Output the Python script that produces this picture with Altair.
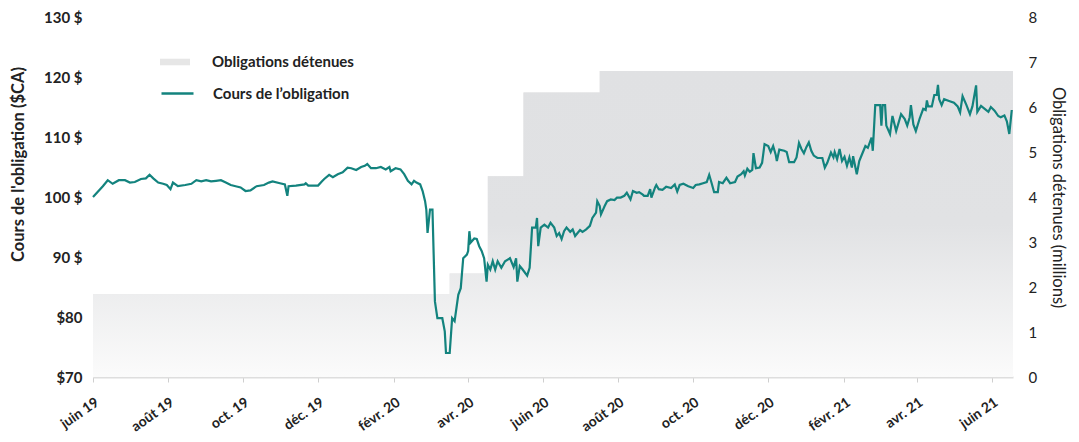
import altair as alt
import pandas as pd

# ---- Bond price (CAD) ----
price_dates = [
    "2019-06-01","2019-06-09","2019-06-13","2019-06-17","2019-06-22","2019-06-27","2019-07-01","2019-07-05",
    "2019-07-10","2019-07-14","2019-07-17","2019-07-20","2019-07-24","2019-07-28","2019-07-31","2019-08-03",
    "2019-08-05","2019-08-09","2019-08-15","2019-08-20","2019-08-24","2019-08-28","2019-09-01","2019-09-05",
    "2019-09-09","2019-09-13","2019-09-17","2019-09-21","2019-09-25","2019-09-29","2019-10-03","2019-10-07",
    "2019-10-12","2019-10-18","2019-10-22","2019-10-25","2019-10-31","2019-11-04","2019-11-06","2019-11-07",
    "2019-11-13","2019-11-20","2019-11-21","2019-11-23","2019-12-01","2019-12-04","2019-12-06","2019-12-10",
    "2019-12-13","2019-12-17","2019-12-21","2019-12-25","2019-12-28","2020-01-01","2020-01-05","2020-01-08",
    "2020-01-10","2020-01-13","2020-01-17","2020-01-21","2020-01-25","2020-01-28","2020-01-29","2020-02-02",
    "2020-02-06","2020-02-09","2020-02-12","2020-02-15","2020-02-17","2020-02-19","2020-02-22","2020-02-24",
    "2020-02-26","2020-02-27","2020-02-28","2020-03-01","2020-03-03","2020-03-05","2020-03-07","2020-03-11",
    "2020-03-13","2020-03-14","2020-03-17","2020-03-19","2020-03-21","2020-03-24","2020-03-26","2020-03-28",
    "2020-03-31","2020-04-01","2020-04-02","2020-04-03","2020-04-06","2020-04-08","2020-04-10","2020-04-12",
    "2020-04-14","2020-04-16","2020-04-17","2020-04-19","2020-04-21","2020-04-23","2020-04-25","2020-04-28",
    "2020-05-01","2020-05-05","2020-05-08","2020-05-10","2020-05-11","2020-05-13","2020-05-15","2020-05-19",
    "2020-05-21","2020-05-23","2020-05-26","2020-05-27","2020-05-28","2020-05-30","2020-06-02","2020-06-05",
    "2020-06-07","2020-06-10","2020-06-12","2020-06-14","2020-06-16","2020-06-18","2020-06-20","2020-06-23",
    "2020-06-25","2020-06-27","2020-06-29","2020-07-01","2020-07-03","2020-07-06","2020-07-09","2020-07-11",
    "2020-07-14","2020-07-15","2020-07-17","2020-07-18","2020-07-21","2020-07-23","2020-07-26","2020-07-29",
    "2020-07-31","2020-08-03","2020-08-06","2020-08-08","2020-08-11","2020-08-13","2020-08-16","2020-08-18",
    "2020-08-21","2020-08-22","2020-08-25","2020-08-27","2020-08-28","2020-08-31","2020-09-01","2020-09-03",
    "2020-09-06","2020-09-09","2020-09-13","2020-09-16","2020-09-18","2020-09-20","2020-09-23","2020-09-27",
    "2020-10-01","2020-10-03","2020-10-06","2020-10-09","2020-10-12","2020-10-14","2020-10-16","2020-10-18",
    "2020-10-21","2020-10-22","2020-10-25","2020-10-28","2020-10-31","2020-11-04","2020-11-06","2020-11-09",
    "2020-11-11","2020-11-12","2020-11-14","2020-11-16","2020-11-18","2020-11-19","2020-11-21","2020-11-24",
    "2020-11-26","2020-11-28","2020-12-01","2020-12-03","2020-12-05","2020-12-07","2020-12-08","2020-12-10",
    "2020-12-14","2020-12-16","2020-12-18","2020-12-22","2020-12-24","2020-12-26","2020-12-28","2020-12-30",
    "2021-01-01","2021-01-03","2021-01-05","2021-01-07","2021-01-10","2021-01-14","2021-01-16","2021-01-18",
    "2021-01-21","2021-01-23","2021-01-24","2021-01-26","2021-01-28","2021-01-30","2021-02-01","2021-02-03",
    "2021-02-05","2021-02-07","2021-02-08","2021-02-11","2021-02-13","2021-02-15","2021-02-18","2021-02-20",
    "2021-02-23","2021-02-24","2021-02-26","2021-03-02","2021-03-03","2021-03-04","2021-03-06","2021-03-07",
    "2021-03-10","2021-03-12","2021-03-15","2021-03-19","2021-03-22","2021-03-24","2021-03-26","2021-03-27",
    "2021-03-29","2021-03-31","2021-04-03","2021-04-06","2021-04-08","2021-04-09","2021-04-10","2021-04-13",
    "2021-04-15","2021-04-17","2021-04-18","2021-04-19","2021-04-21","2021-04-23","2021-04-27","2021-05-01",
    "2021-05-04","2021-05-06","2021-05-08","2021-05-11","2021-05-14","2021-05-16","2021-05-19","2021-05-20",
    "2021-05-23","2021-05-26","2021-05-29","2021-05-31","2021-06-03","2021-06-06","2021-06-08","2021-06-11",
    "2021-06-13","2021-06-15","2021-06-17",
]
price_values = [
    100.0,101.8,102.8,102.2,102.8,102.8,102.4,102.5,
    103.0,103.1,103.7,103.1,102.4,102.2,102.0,101.3,
    102.4,101.8,102.0,102.2,102.8,102.6,102.8,102.6,
    102.7,102.8,102.4,102.0,101.8,101.6,101.0,101.1,
    101.8,102.0,102.4,102.6,102.3,102.1,100.2,101.8,
    101.9,102.1,102.3,101.9,101.9,102.6,103.0,103.7,
    103.3,103.8,104.1,104.9,104.8,104.5,105.0,105.2,
    105.5,104.8,104.8,105.0,104.6,105.0,104.3,104.8,
    104.6,103.8,102.7,102.1,102.7,102.4,102.1,101.0,
    99.3,97.9,94.0,97.9,97.9,82.6,79.8,79.8,
    77.6,74.0,74.0,79.8,79.3,83.7,84.8,89.8,
    90.4,91.0,94.3,92.4,93.1,93.0,91.8,91.0,
    89.8,85.9,88.7,87.9,89.3,87.9,89.3,88.2,
    89.3,89.8,88.3,89.8,85.9,88.5,88.0,86.9,
    88.2,94.9,94.9,96.5,91.8,94.9,95.4,94.9,
    95.7,94.9,93.5,94.0,93.0,94.3,94.9,94.2,
    94.6,93.5,94.0,94.5,94.2,94.6,95.2,96.5,
    97.4,99.3,98.5,97.1,98.5,99.3,99.6,99.5,
    99.9,99.9,100.2,100.7,99.6,101.0,100.7,100.8,
    100.4,100.2,100.2,101.3,99.9,101.6,102.0,101.3,
    101.2,101.7,101.5,102.1,100.9,102.0,102.2,101.8,
    101.5,102.0,102.1,102.3,102.5,103.7,102.3,100.8,
    100.8,102.5,102.3,103.2,102.3,102.5,103.4,103.8,
    104.3,103.6,104.7,104.2,104.5,107.3,104.8,104.9,
    105.7,108.8,108.5,107.5,108.5,107.1,106.0,107.9,
    107.7,107.5,105.8,105.8,106.6,109.0,108.0,107.3,
    108.3,109.1,107.7,106.9,106.5,106.5,104.9,105.7,
    107.4,106.6,107.5,106.3,108.0,106.0,106.7,105.2,
    106.6,104.9,106.8,103.8,106.0,107.0,108.5,108.2,
    109.9,107.7,115.3,115.3,111.9,115.3,115.3,111.9,
    110.5,113.5,111.0,113.8,113.0,111.9,113.3,115.3,
    112.1,111.0,113.0,114.7,114.5,116.1,115.1,115.1,
    117.0,117.0,118.7,116.3,115.3,116.3,116.0,115.7,
    115.1,114.1,116.8,115.4,113.8,115.1,118.6,114.2,
    115.2,114.7,114.2,115.0,114.4,113.5,113.3,113.6,
    112.6,110.5,114.5,
]

# ---- Bonds held (millions), step series ----
held_dates = ["2019-06-01", "2020-03-17", "2020-04-17", "2020-05-16", "2020-07-17", "2021-06-18"]
held_values = [1.84, 2.30, 4.46, 6.32, 6.80, 6.80]

# ---- Axis ticks / labels ----
price_ticks = [70, 80, 90, 100, 110, 120, 130]
held_ticks = [0, 1, 2, 3, 4, 5, 6, 7, 8]
tick_months = [(2019, 6), (2019, 8), (2019, 10), (2019, 12), (2020, 2), (2020, 4), (2020, 6),
               (2020, 8), (2020, 10), (2020, 12), (2021, 2), (2021, 4), (2021, 6)]
month_names = ["janv.", "févr.", "mars", "avr.", "mai", "juin", "juil.", "août", "sept.", "oct.", "nov.", "déc."]

SERIES_PRICE = "Cours de l’obligation"
SERIES_HELD = "Obligations détenues"

price_df = pd.DataFrame({"date": [d + "T00:00:00" for d in price_dates], "price": price_values,
                         "series": SERIES_PRICE})
held_df = pd.DataFrame({"date": [d + "T00:00:00" for d in held_dates], "held": held_values,
                        "series": SERIES_HELD})

FONT = "Lato"
TXT = "#222222"
TEAL = "#13837e"

month_js = "[" + ",".join("'" + m + "'" for m in month_names) + "]"
x_axis = alt.Axis(
    values=[alt.DateTime(year=y, month=m, date=1) for y, m in tick_months],
    labelExpr=month_js + "[month(datum.value)] + ' ' + timeFormat(datum.value, '%y')",
    labelAngle=325, labelAlign="right", labelBaseline="top",
    labelFont=FONT, labelFontSize=14, labelFontWeight="bold", labelColor=TXT,
    labelPadding=13, domainColor="#dedede", domainWidth=2, tickColor="#cfcfcf",
    tickSize=5, tickWidth=1, grid=False, title=None,
)
x_enc = alt.X("date:T", axis=x_axis,
              scale=alt.Scale(domain=[alt.DateTime(year=2019, month=6, date=1),
                                      alt.DateTime(year=2021, month=6, date=18)]))

held_scale = alt.Scale(domain=[0, 8], nice=False, zero=True)
held_axis = alt.Axis(
    orient="right", values=held_ticks, title="Obligations détenues (millions)",
    titleFont=FONT, titleFontSize=16.5, titleFontWeight="normal", titleColor=TXT,
    titleAngle=90, titlePadding=13,
    labelFont=FONT, labelFontSize=15, labelColor=TXT, labelPadding=15,
    domain=False, ticks=False, grid=False,
)

gradient = alt.Gradient(
    gradient="linear",
    stops=[alt.GradientStop(color="#e0e1e3", offset=0),
           alt.GradientStop(color="#e1e2e4", offset=0.5),
           alt.GradientStop(color="#fbfbfb", offset=1)],
    x1=0, x2=0, y1=0, y2=1,
)

held_legend_area = alt.Chart(held_df).mark_area(interpolate="step-after").encode(
    x=x_enc,
    y=alt.Y("held:Q", scale=held_scale, axis=held_axis, stack=None),
    fill=alt.Fill("series:N", scale=alt.Scale(domain=[SERIES_HELD], range=["#e6e6e6"]),
                  legend=alt.Legend(orient="none", legendX=67, legendY=30, title=None,
                                    symbolType="M-1,-0.22H1V0.22H-1Z", symbolSize=900,
                                    symbolStrokeWidth=0, labelOffset=22, padding=0,
                                    labelFont=FONT, labelFontSize=15, labelFontWeight="bold",
                                    labelColor=TXT)),
)
held_area = alt.Chart(held_df).mark_area(interpolate="step-after", fill=gradient).encode(
    x=x_enc,
    y=alt.Y("held:Q", scale=held_scale, axis=held_axis, stack=None),
)

price_line = alt.Chart(price_df).mark_line(strokeWidth=2.2).encode(
    x=x_enc,
    y=alt.Y("price:Q", scale=alt.Scale(domain=[70, 130], nice=False, zero=False),
            axis=alt.Axis(orient="left", values=price_ticks,
                          labelExpr="datum.value >= 90 ? datum.value + ' $' : '$' + datum.value",
                          title="Cours de l'obligation ($CA)", titleFont=FONT, titleFontSize=16.5,
                          titleFontWeight="bold", titleColor=TXT, titlePadding=17, titleY=147,
                          labelFont=FONT, labelFontSize=15, labelFontWeight="bold", labelColor=TXT,
                          labelPadding=11, domain=False, ticks=False, grid=False)),
    stroke=alt.Stroke("series:N", scale=alt.Scale(domain=[SERIES_PRICE], range=[TEAL]),
                      legend=alt.Legend(orient="none", legendX=67, legendY=59, title=None,
                                        symbolType="stroke", symbolSize=1024, symbolStrokeWidth=2.5,
                                        labelOffset=18, padding=0,
                                        labelFont=FONT, labelFontSize=15, labelFontWeight="bold",
                                        labelColor=TXT)),
)

chart = alt.layer(
    alt.layer(held_legend_area, held_area),
    price_line,
).resolve_scale(y="independent", fill="independent", stroke="independent").properties(
    width=920, height=360,
    padding={"left": 85, "top": 9, "right": 58, "bottom": 57},
    autosize=alt.AutoSizeParams(type="none"),
    background="white",
).configure_view(stroke=None)

chart.save("out.html", embed_options={"renderer": "svg", "actions": False})
